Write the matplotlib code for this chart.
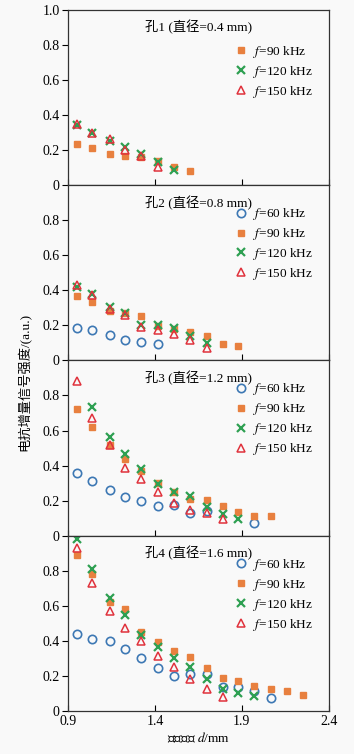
import numpy as np
import matplotlib
matplotlib.use('Agg')
import matplotlib.pyplot as plt
from matplotlib.ticker import FuncFormatter

plt.rcParams['font.family'] = ['Liberation Serif', 'Noto Sans CJK SC']
plt.rcParams['mathtext.fontset'] = 'stix'

# defect depth positions (mm)
depth = [0.95, 1.04, 1.14, 1.23, 1.32, 1.42, 1.51, 1.60, 1.70, 1.79, 1.88, 1.97, 2.07, 2.16, 2.25]

titles = ['孔1 (直径=0.4 mm)', '孔2 (直径=0.8 mm)', '孔3 (直径=1.2 mm)', '孔4 (直径=1.6 mm)']

# hole 1
h1_90 = [0.235, 0.212, 0.178, 0.166, 0.163, 0.136, 0.105, 0.078]
h1_120 = [0.344, 0.296, 0.254, 0.22, 0.178, 0.134, 0.085]
h1_150 = [0.35, 0.296, 0.262, 0.20, 0.165, 0.103]

# hole 2
h2_60 = [0.187, 0.173, 0.145, 0.114, 0.103, 0.091]
h2_90 = [0.368, 0.335, 0.28, 0.27, 0.253, 0.198, 0.18, 0.163, 0.137, 0.095, 0.085]
h2_120 = [0.42, 0.377, 0.307, 0.27, 0.2, 0.2, 0.183, 0.141, 0.10]
h2_150 = [0.432, 0.373, 0.295, 0.26, 0.189, 0.173, 0.149, 0.114, 0.072]

# hole 3
h3_60 = [0.357, 0.314, 0.259, 0.221, 0.197, 0.172, 0.176, 0.13, 0.142, None, None, 0.07]
h3_90 = [0.724, 0.62, 0.52, 0.44, 0.37, 0.299, 0.251, 0.212, 0.204, 0.17, 0.136, 0.113, 0.111]
h3_120 = [None, 0.737, 0.563, 0.465, 0.382, 0.293, 0.251, 0.227, 0.161, 0.123, 0.093]
h3_150 = [0.881, 0.673, 0.518, 0.388, 0.325, 0.25, 0.189, 0.147, 0.132, 0.098]

# hole 4
h4_60 = [0.437, 0.412, 0.40, 0.355, 0.302, 0.246, 0.198, 0.21, 0.21, 0.138, 0.138, 0.115, 0.072]
h4_90 = [0.89, 0.78, 0.62, 0.58, 0.448, 0.395, 0.342, 0.306, 0.246, 0.189, 0.174, 0.14, 0.128, 0.113, 0.091]
h4_120 = [0.979, 0.81, 0.643, 0.546, 0.435, 0.365, 0.302, 0.251, 0.183, 0.123, 0.102, 0.087]
h4_150 = [0.928, 0.733, 0.573, 0.473, 0.397, 0.312, 0.251, 0.181, 0.128, 0.081]

panels = [
    {'90': h1_90, '120': h1_120, '150': h1_150},
    {'60': h2_60, '90': h2_90, '120': h2_120, '150': h2_150},
    {'60': h3_60, '90': h3_90, '120': h3_120, '150': h3_150},
    {'60': h4_60, '90': h4_90, '120': h4_120, '150': h4_150},
]

styles = {
    '60': dict(marker='o', ms=6, mfc='none', mec='#3d78b4', mew=1.2, ls='none'),
    '90': dict(marker='s', ms=4.5, mfc='#e8803f', mec='#e8803f', ls='none'),
    '120': dict(marker='x', ms=6, mec='#2ea052', mew=1.6, ls='none'),
    '150': dict(marker='^', ms=5.5, mfc='none', mec='#e0323c', mew=1.1, ls='none'),
}

fig = plt.figure(figsize=(3.54, 7.54), dpi=100, facecolor='#f9f9f9')
axes = fig.subplots(4, 1, sharex=True)
fig.subplots_adjust(left=0.192, right=0.929, bottom=0.057, top=0.987, hspace=0)

fmt = FuncFormatter(lambda v, p: '0' if abs(v) < 1e-9 else '%.1f' % v)

for i, ax in enumerate(axes):
    ax.set_facecolor('#f9f9f9')
    for key, vals in panels[i].items():
        xs = [depth[j] for j, v in enumerate(vals) if v is not None]
        ys = [v for v in vals if v is not None]
        ax.plot(xs, ys, label='$f$=%s kHz' % key, **styles[key])
    ax.set_xlim(0.9, 2.4)
    ax.set_ylim(0, 1.0)
    ax.set_xticks([0.9, 1.4, 1.9, 2.4])
    if i == 0:
        ax.set_yticks([0, 0.2, 0.4, 0.6, 0.8, 1.0])
    else:
        ax.set_yticks([0, 0.2, 0.4, 0.6, 0.8])
    ax.yaxis.set_major_formatter(fmt)
    ax.tick_params(axis='y', direction='out', length=4, width=0.8, labelsize=10, pad=2)
    ax.tick_params(axis='x', direction='in', length=4, width=0.8, labelsize=10, pad=3)
    for s in ax.spines.values():
        s.set_linewidth(0.9)
        s.set_color('#333333')
    ax.text(0.5, 0.94, titles[i], transform=ax.transAxes, ha='center', va='top', fontsize=9.5)
    bb = (0.97, 0.85) if i == 0 else (0.97, 0.925)
    ax.legend(loc='upper right', bbox_to_anchor=bb, frameon=False, fontsize=9.5,
              handletextpad=0.3, handlelength=1.2, labelspacing=0.3, borderaxespad=0.2)

axes[-1].set_xlabel('缺陷深度 $d$/mm', fontsize=9.5, labelpad=2)
fig.text(0.07, 0.493, '电抗增量信号强度/(a.u.)', rotation=90, ha='center', va='center', fontsize=9.5)

fig.savefig('out.png', dpi=100, facecolor=fig.get_facecolor())
